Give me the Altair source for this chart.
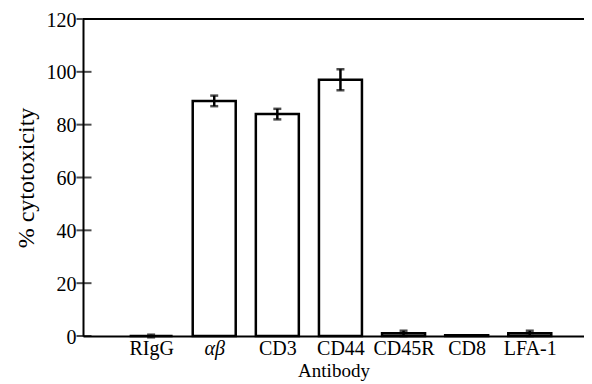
import altair as alt
import pandas as pd

categories = ["RIgG", "αβ", "CD3", "CD44", "CD45R", "CD8", "LFA-1"]
positions = [1, 2, 3, 4, 5, 6, 7]
values = [0.0, 89.0, 84.0, 97.0, 1.0, 0.3, 1.0]
errors = [0.5, 2.0, 2.0, 4.0, 1.0, 0.0, 1.0]
y_ticks = [0, 20, 40, 60, 80, 100, 120]

df = pd.DataFrame({"cat": categories, "pos": positions, "val": values, "err": errors})
df["lo"] = df["val"] - df["err"]
df["hi"] = df["val"] + df["err"]
df_err = df[df["err"] > 0]
ticks_df = pd.DataFrame({"t": y_ticks})

FONT = "Liberation Serif"
W, H = 501, 317

label_expr = "[" + ",".join("'" + c + "'" for c in categories) + "][datum.value - 1]"

xscale = alt.Scale(domain=[0, 7.78], nice=False, zero=False)
yscale = alt.Scale(domain=[0, 120], nice=False)

x_axis = alt.Axis(
    values=positions, labelExpr=label_expr, ticks=False, grid=False,
    domainColor="black", domainWidth=2, labelFont=FONT, labelFontSize=20,
    labelColor="black", labelPadding=2, labelFontStyle=alt.condition(
        "datum.value == 2", alt.value("italic"), alt.value("normal")),
    title="Antibody", titleFont=FONT, titleFontSize=19, titleFontWeight="normal",
    titleColor="black", titlePadding=3,
)
y_axis = alt.Axis(
    values=y_ticks, ticks=False, grid=False, domainColor="black", domainWidth=2,
    labelFont=FONT, labelFontSize=20, labelColor="black", labelPadding=7,
    labelOffset=1,
    title="% cytotoxicity", titleFont=FONT, titleFontSize=24,
    titleFontWeight="normal", titleColor="black", titlePadding=8,
)

base = alt.Chart(df)

bars = base.mark_bar(fill="white", stroke="black", strokeWidth=2.5, size=43).encode(
    x=alt.X("pos:Q", scale=xscale, axis=x_axis),
    y=alt.Y("val:Q", scale=yscale, axis=y_axis),
)

err_base = alt.Chart(df_err)
err_rule = err_base.mark_rule(color="black", strokeWidth=2.5).encode(
    x="pos:Q", y="lo:Q", y2="hi:Q")
cap_lo = err_base.mark_tick(color="black", thickness=2.5, size=8, orient="horizontal").encode(
    x="pos:Q", y="lo:Q")
cap_hi = err_base.mark_tick(color="black", thickness=2.5, size=8, orient="horizontal").encode(
    x="pos:Q", y="hi:Q")

yticks = alt.Chart(ticks_df).mark_tick(color="black", thickness=2, size=15, orient="horizontal").encode(
    x=alt.value(1), y=alt.Y("t:Q", scale=yscale))

top_line = alt.Chart(ticks_df).mark_rule(color="black", strokeWidth=2).encode(
    y=alt.datum(120), x=alt.value(0), x2=alt.value(W))

chart = alt.layer(bars, err_rule, cap_lo, cap_hi, yticks, top_line).properties(
    width=W, height=H, autosize="none",
    padding={"left": 75, "top": 11, "right": 0, "bottom": 48},
).configure_view(stroke=None).configure(background="white")

chart.save("out.html", embed_options={"renderer": "svg", "actions": False})
